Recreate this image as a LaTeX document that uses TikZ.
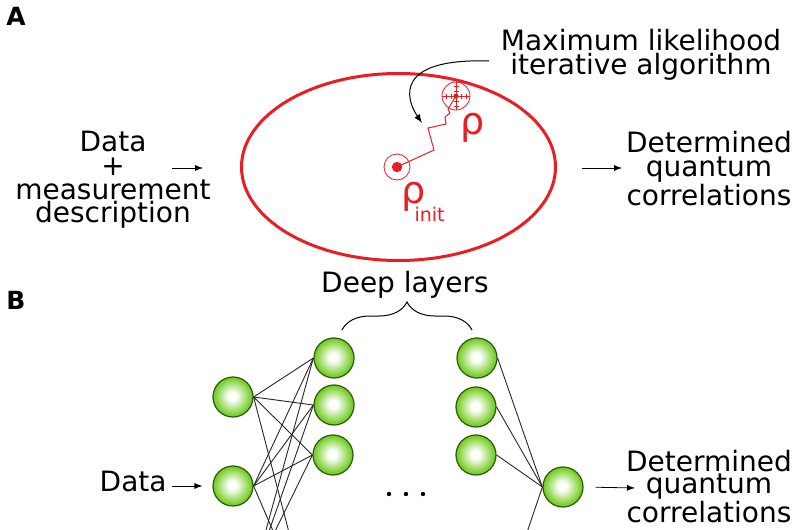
\documentclass[tikz,border=0pt]{standalone}
\usepackage{fontspec}
\setmainfont{DejaVu Sans}
\usetikzlibrary{arrows, shapes.geometric, decorations.pathreplacing}
\definecolor{zustandrot}{RGB}{232, 30, 36}
\definecolor{knotengruen}{RGB}{118, 206, 38}
\definecolor{randgruen}{RGB}{45, 85, 15}
\pgfdeclareradialshading{kugel}{\pgfpoint{-1bp}{1bp}}{color(0bp)=(white); color(5bp)=(white); color(23bp)=(knotengruen); color(50bp)=(knotengruen)}

\begin{document}
\begin{tikzpicture}[x=0.5pt, y=-0.5pt,
					>=latex,   %Pfeilspitzen
					textblock/.style={align=center, inner sep=0pt, font=\fontsize{14}{11.8}\selectfont},
					neuron/.style={circle, draw=randgruen, line width=0.6pt, minimum size=20pt, inner sep=0pt, shading=kugel},
					kante/.style={line width=0.45pt, black!85},
					pfeil/.style={->, line width=0.4pt},
					rot/.style={zustandrot, line width=0.5pt}]
					%Bildbereich
					\useasboundingbox (0,0) rectangle (800,530);
					\clip (0,0) rectangle (800,530);
					% Teil A
					\node[inner sep=0pt, font=\bfseries\fontsize{12.5}{12.5}\selectfont] (teilA) at (16,16) {A};
					\node[textblock, anchor=north] (datenA) at (113,131) {Data\\+\\measurement\\description};
					\node[textblock, anchor=north] (ergebnisA) at (709,131) {Determined\\quantum\\correlations};
					\node[textblock, anchor=north] (algo) at (641,29) {Maximum likelihood\\iterative algorithm};
					\node[ellipse, draw=zustandrot, line width=1.5pt, minimum width=157pt, minimum height=93.5pt] (raum) at (398.5,167) {};
					\coordinate (pA1) at (172,168);
					\coordinate (pA2) at (203,168);
					\coordinate (pA3) at (582,168);
					\coordinate (pA4) at (622,168);
					\draw[pfeil] (pA1) -- (pA2);
					\draw[pfeil] (pA3) -- (pA4);
					% Startzustand und Ziel
					\node[circle, draw=zustandrot, line width=0.4pt, minimum size=13pt, inner sep=0pt] (start) at (397,167) {};
					\fill[zustandrot] (start.center) circle (2.6pt);
					\node[circle, draw=zustandrot, line width=0.4pt, minimum size=14pt, inner sep=0pt] (ziel) at (456,96) {};
					\fill[zustandrot] (ziel.center) circle (1.3pt);
					\draw[rot, line width=0.35pt] (ziel.west) -- (ziel.east) (ziel.north) -- (ziel.south);
					\foreach \d in {-10,-5,5,10} {
						\draw[rot, line width=0.35pt] ([xshift=\d*0.5pt]ziel.center) ++(0,-2.5) -- ++(0,5);
						\draw[rot, line width=0.35pt] ([yshift=\d*0.5pt]ziel.center) ++(-2.5,0) -- ++(5,0);
					}
					\draw[rot] (start.center) -- (434,150) -- (428,128) -- (446,124) -- (445,117) -- (450,113) -- (448,109) -- (ziel.center);
					\node[anchor=base, inner sep=0pt, font=\fontsize{19}{19}\selectfont, text=zustandrot] (rho) at (473,134) {ρ};
					\node[anchor=base west, inner sep=0pt, font=\fontsize{19}{19}\selectfont, text=zustandrot] (rhoinit) at (401,204) {ρ\kern-5.5pt\raisebox{-9pt}{\fontsize{9.5}{9.5}\selectfont init}};
					\coordinate (bogenstart) at (489,61);
					\coordinate (bogenende) at (422,123);
					\draw[pfeil, line width=0.5pt] (bogenstart) .. controls (395,58) and (405,98) .. (bogenende);
					% Teil B
					\node[inner sep=0pt, font=\bfseries\fontsize{12.5}{12.5}\selectfont] (teilB) at (16,300) {B};
					\node[textblock, anchor=north] (tief) at (405,271) {Deep layers};
					\coordinate (klammerL) at (342,330);
					\coordinate (klammerR) at (472,330);
					\draw[line width=0.5pt, decorate, decoration={brace, amplitude=14pt}] (klammerL) -- (klammerR);
					% Knoten
					\node[neuron] (e1) at (233,397) {};
					\node[neuron] (e2) at (233,486) {};
					\node[neuron] (e3) at (233,575) {};
					\node[neuron] (h1) at (334,358) {};
					\node[neuron] (h2) at (334,405) {};
					\node[neuron] (h3) at (333,455) {};
					\node[neuron] (h4) at (333,622) {};
					\node[neuron] (t1) at (477,358) {};
					\node[neuron] (t2) at (476,407) {};
					\node[neuron] (t3) at (476,455) {};
					\node[neuron] (t4) at (476,622) {};
					\node[neuron] (ausgabe) at (563,487) {};
					% Verbindungen
					\foreach \i in {1,2,3} \foreach \j in {1,...,4} \draw[kante] (e\i.east) -- (h\j.west);
					\foreach \j in {1,...,4} \draw[kante] (t\j.east) -- (ausgabe.west);
					\foreach \x in {389,406,423} \fill (\x,494) circle (1.1pt);
					% Ein- und Ausgabe
					\node[textblock, anchor=base east] (datenB) at (167,491) {Data};
					\node[textblock, anchor=north, font=\fontsize{14}{10.8}\selectfont] (ergebnisB) at (709,450) {Determined\\quantum\\correlations};
					\coordinate (pB1) at (172,486);
					\coordinate (pB2) at (635,488);
					\draw[pfeil, shorten >=5pt] (pB1) -- (e2.west);
					\draw[pfeil, shorten <=6pt] (ausgabe.east) -- (pB2);
\end{tikzpicture}
\end{document}
